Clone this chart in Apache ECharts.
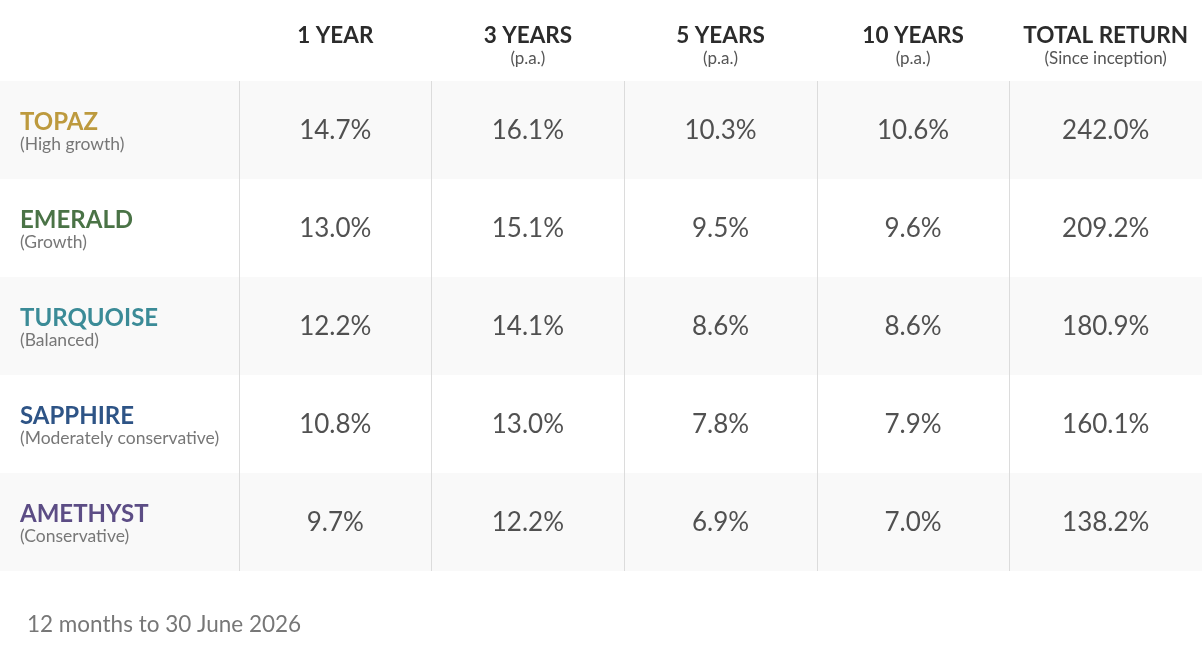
<!DOCTYPE html>
<html>
<head>
<meta charset="utf-8">
<style>
  html, body { margin: 0; padding: 0; background: #ffffff; }
  #chart { width: 1202px; height: 667px; }
</style>
<script src="https://cdn.jsdelivr.net/npm/echarts@6/dist/echarts.min.js"></script>
</head>
<body>
<div id="chart"></div>
<script>
// column headers and their sub-captions
var periods = ['1 YEAR', '3 YEARS', '5 YEARS', '10 YEARS', 'TOTAL RETURN'];
var periodNotes = ['', '(p.a.)', '(p.a.)', '(p.a.)', '(Since inception)'];

// funds (rows)
var funds = ['TOPAZ', 'EMERALD', 'TURQUOISE', 'SAPPHIRE', 'AMETHYST'];
var fundNotes = ['(High growth)', '(Growth)', '(Balanced)', '(Moderately conservative)', '(Conservative)'];
var fundColors = ['#bd9a3e', '#4a7346', '#3b8b97', '#2e5486', '#5c4d85'];

// returns in %, one array per fund, in period order
var topaz = [14.7, 16.1, 10.3, 10.6, 242.0];
var emerald = [13.0, 15.1, 9.5, 9.6, 209.2];
var turquoise = [12.2, 14.1, 8.6, 8.6, 180.9];
var sapphire = [10.8, 13.0, 7.8, 7.9, 160.1];
var amethyst = [9.7, 12.2, 6.9, 7.0, 138.2];

var footnote = '12 months to 30 June 2026';

var chart = echarts.init(document.getElementById('chart'));

var rows = [topaz, emerald, turquoise, sapphire, amethyst];
var cells = [];
rows.forEach(function (vals, r) {
    vals.forEach(function (v, c) {
        cells.push([c, r, v]);
    });
});

// rich styles for fund names
var rich = {
    sub: { fontFamily: 'Lato', fontSize: 17.5, color: '#777777', lineHeight: 16 }
};
funds.forEach(function (f, i) {
    rich['f' + i] = {
        fontFamily: 'Lato', fontSize: 24, fontWeight: 'bold',
        color: fundColors[i], lineHeight: 28
    };
});

var option = {
    backgroundColor: '#ffffff',
    animation: false,
    title: {
        text: footnote,
        left: 22,
        top: 608,
        textStyle: { fontFamily: 'Lato', fontSize: 22.5, fontWeight: 'normal', color: '#777777' }
    },
    grid: [
        // full-width band for alternating row shading
        { left: 0, right: 0, top: 81, height: 490 },
        // value columns
        { left: 239, right: 0, top: 81, height: 490 }
    ],
    xAxis: [
        { gridIndex: 0, type: 'category', data: [''], show: false },
        {
            gridIndex: 1,
            type: 'category',
            position: 'top',
            data: periods,
            axisLine: { show: false },
            axisTick: { show: false },
            splitLine: { show: true, lineStyle: { color: '#dcdcdc', width: 1 } },
            axisLabel: {
                margin: 11,
                formatter: function (val, idx) {
                    var note = periodNotes[idx] || ' ';
                    return '{t|' + val + '}\n{s|' + note + '}';
                },
                rich: {
                    t: { fontFamily: 'Lato', fontSize: 22.5, fontWeight: 'bold', color: '#2b2b2b', lineHeight: 24 },
                    s: { fontFamily: 'Lato', fontSize: 17, color: '#555555', lineHeight: 22 }
                }
            }
        }
    ],
    yAxis: [
        {
            gridIndex: 0,
            type: 'category',
            inverse: true,
            data: funds,
            axisLine: { show: false },
            axisTick: { show: false },
            axisLabel: { show: false },
            splitArea: { show: true, areaStyle: { color: ['#f9f9f9', '#ffffff'] } }
        },
        {
            gridIndex: 1,
            type: 'category',
            inverse: true,
            data: funds,
            axisLine: { show: false },
            axisTick: { show: false },
            splitLine: { show: false },
            axisLabel: {
                align: 'left',
                margin: 219,
                formatter: function (val, idx) {
                    return '{f' + idx + '|' + val + '}\n{sub|' + fundNotes[idx] + '}';
                },
                rich: rich
            }
        }
    ],
    series: [
        {
            type: 'scatter',
            xAxisIndex: 1,
            yAxisIndex: 1,
            symbolSize: 0,
            data: cells,
            label: {
                show: true,
                position: 'inside',
                offset: [0, 1],
                fontFamily: 'Lato',
                fontSize: 26,
                color: '#262626',
                formatter: function (p) {
                    return p.value[2].toFixed(1) + '%';
                }
            }
        }
    ]
};

chart.setOption(option);
</script>
</body>
</html>
